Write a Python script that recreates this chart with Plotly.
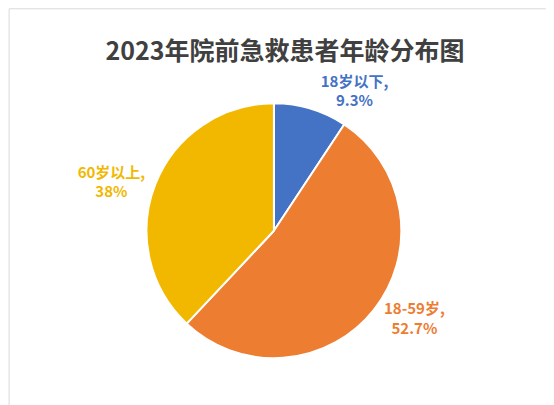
import plotly.graph_objects as go

labels = ["18岁以下", "18-59岁", "60岁以上"]
values = [9.3, 52.7, 38]
colors = ["#4472C4", "#ED7D31", "#F2B800"]

fig = go.Figure(go.Pie(
    labels=labels,
    values=values,
    sort=False,
    direction="clockwise",
    rotation=0,
    marker=dict(colors=colors, line=dict(color="white", width=2)),
    texttemplate="<b>%{label},</b><br><b>%{value}%</b>",
    textposition="outside",
    textfont=dict(color=colors, size=15, family="Noto Sans CJK SC"),
    showlegend=False,
    domain=dict(x=[0.25, 0.71], y=[0.13, 0.77]),
    hoverinfo="skip",
))

fig.update_layout(
    width=554, height=405, autosize=False,
    margin=dict(l=0, r=0, t=0, b=0),
    paper_bgcolor="white",
    title=dict(text="<b>2023年院前急救患者年龄分布图</b>", x=0.5, y=0.915, xanchor="center",
               font=dict(size=25, color="#404040", family="Noto Sans CJK SC")),
    shapes=[dict(type="rect", xref="paper", yref="paper", x0=0.002, y0=0.006, x1=0.985, y1=0.998,
                 line=dict(color="#D9D9D9", width=1))],
)

fig.write_html("out.html")
